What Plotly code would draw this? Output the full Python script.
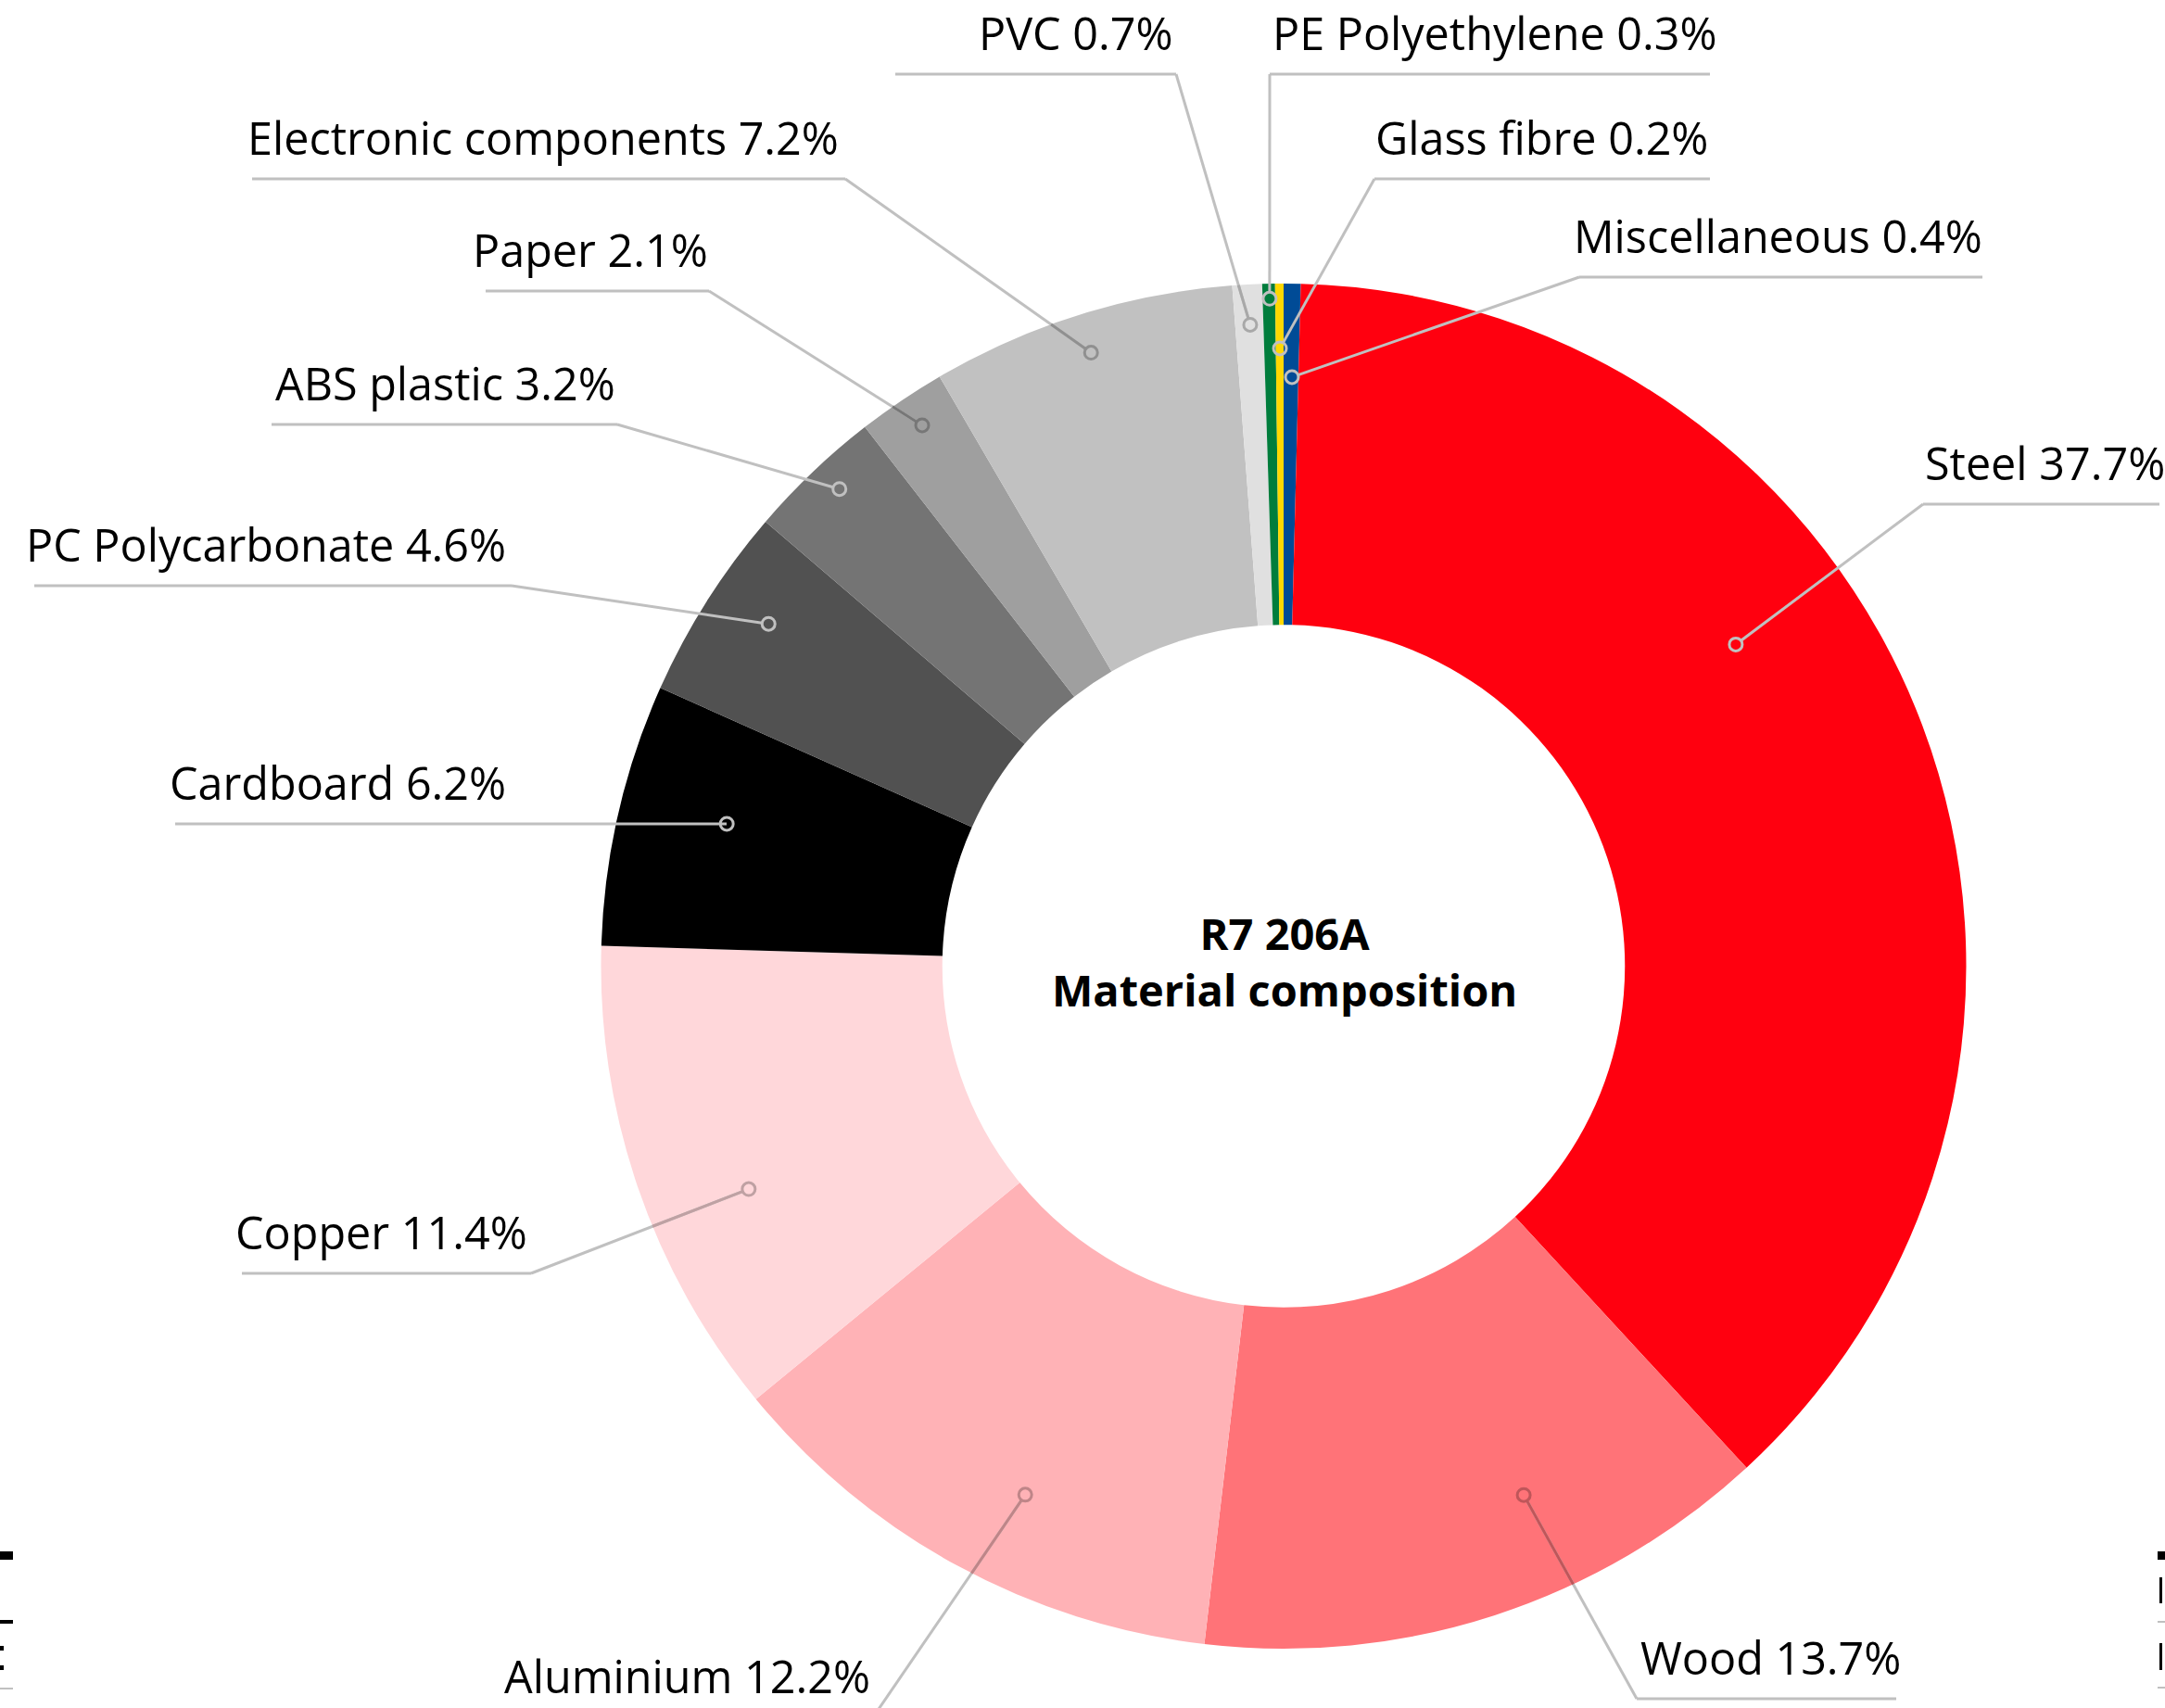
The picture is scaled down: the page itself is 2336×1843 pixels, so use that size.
import math
import plotly.graph_objects as go

# ---------------- data (clockwise from 12 o'clock) ----------------
materials = ["Miscellaneous", "Steel", "Wood", "Aluminium", "Copper", "Cardboard",
             "PC Polycarbonate", "ABS plastic", "Paper", "Electronic components",
             "PVC", "PE Polyethylene", "Glass fibre"]
shares = [0.4, 37.7, 13.7, 12.2, 11.4, 6.2, 4.6, 3.2, 2.1, 7.2, 0.7, 0.3, 0.2]
slice_colors = ["#004b96", "#ff000f", "#ff7378", "#ffb2b6", "#ffd7da", "#000000",
                "#515151", "#747474", "#9f9f9f", "#c1c1c1", "#e0e0e0", "#007d3c", "#ffd800"]
center_title = ["R7 206A", "Material composition"]

# ---------------- layout constants (pixels) ----------------
W, H = 2336, 1843
CX, CY, R = 1385.0, 1042.5, 736.5
HOLE = 0.5
FONT = "Open Sans"
FS = 48.5
LINE_C = "#c0c0c0"

# callout placement: side, text x, underline y, underline x-range, knee x,
# dot angle nudge (deg), dot radius (frac of R), darker leader inside light slices
callouts = {
    "Steel":                 dict(side="R", tx=2075, uy=544,  ux=(2075, 2330), kx=2075, dshift=-14.8, dr=0.813, dark=False),
    "Wood":                  dict(side="R", tx=1768, uy=1833, ux=(1766, 2046), kx=1766, dshift=-6.4,  dr=0.851, dark=True),
    "Aluminium":             dict(side="L", tx=941,  uy=1853, ux=(552, 942),   kx=942,  dshift=-2.6,  dr=0.862, dark=True),
    "Copper":                dict(side="L", tx=571,  uy=1374, ux=(261, 573),   kx=573,  dshift=-3.8,  dr=0.849, dark=True),
    "Cardboard":             dict(side="L", tx=548,  uy=889,  ux=(189, 784),   kx=None, dshift=1.45,  dr=0.842, dark=False),
    "PC Polycarbonate":      dict(side="L", tx=548,  uy=632,  ux=(37, 552),    kx=552,  dshift=1.26,  dr=0.906, dark=False),
    "ABS plastic":           dict(side="L", tx=666,  uy=458,  ux=(293, 666),   kx=666,  dshift=0.65,  dr=0.955, dark=False),
    "Paper":                 dict(side="L", tx=766,  uy=314,  ux=(524, 765),   kx=765,  dshift=0.3,   dr=0.953, dark=True),
    "Electronic components": dict(side="L", tx=907,  uy=193,  ux=(272, 912),   kx=912,  dshift=-0.13, dr=0.942, dark=True),
    "PVC":                   dict(side="L", tx=1268, uy=80,   ux=(966, 1269),  kx=1269, dshift=0.08,  dr=0.941, dark=True),
    "PE Polyethylene":       dict(side="R", tx=1371, uy=80,   ux=(1370, 1845), kx=1370, dshift=0.06,  dr=0.978, dark=False),
    "Glass fibre":           dict(side="RR", tx=1845, uy=193, ux=(1483, 1845), kx=1483, dshift=0.02,  dr=0.905, dark=False),
    "Miscellaneous":         dict(side="RR", tx=2141, uy=299, ux=(1704, 2139), kx=1704, dshift=0.09,  dr=0.863, dark=False),
}


def px(x):
    return x / W


def py(y):
    return 1 - y / H


def darker(hex_color, f=0.75):
    h = hex_color.lstrip("#")
    r, g, b = (int(h[i:i + 2], 16) for i in (0, 2, 4))
    return "rgb(%d,%d,%d)" % (r * f, g * f, b * f)


def seg(x0, y0, x1, y1, color, width=3):
    return dict(type="line", xref="paper", yref="paper", x0=px(x0), y0=py(y0),
                x1=px(x1), y1=py(y1), line=dict(color=color, width=width), layer="above")


fig = go.Figure()
fig.add_trace(go.Pie(
    labels=materials, values=shares, hole=HOLE, sort=False, direction="clockwise",
    rotation=0, marker=dict(colors=slice_colors, line=dict(width=0)),
    textinfo="none", hoverinfo="label+percent", showlegend=False,
    domain=dict(x=[px(CX - R), px(CX + R)], y=[py(CY + R), py(CY - R)]),
))

shapes = []
annotations = []
total = sum(shares)
cum = 0.0
for name, val, col in zip(materials, shares, slice_colors):
    mid = (cum + val / 2) / total * 360.0
    cum += val
    c = callouts[name]
    ang = math.radians(mid + c["dshift"])
    rr = c["dr"] * R
    dx, dy = CX + rr * math.sin(ang), CY - rr * math.cos(ang)
    uy = c["uy"]
    inner_c = darker(col) if c["dark"] else LINE_C
    # underline
    shapes.append(seg(c["ux"][0], uy, c["ux"][1], uy, LINE_C))
    # leader from knee to dot edge
    kx = c["kx"] if c["kx"] is not None else dx
    vx, vy = dx - kx, dy - uy
    L = math.hypot(vx, vy)
    if L > 8:
        ex, ey = dx - vx / L * 7, dy - vy / L * 7
        shapes.append(seg(kx, uy, ex, ey, LINE_C))
        if c["dark"]:
            # where the leader enters the ring
            a = vx * vx + vy * vy
            b = 2 * ((kx - CX) * vx + (uy - CY) * vy)
            cc = (kx - CX) ** 2 + (uy - CY) ** 2 - R * R
            disc = b * b - 4 * a * cc
            if disc >= 0:
                t = (-b - math.sqrt(disc)) / (2 * a)
                t = max(0.0, min(1.0, t))
                sx, sy = kx + t * vx, uy + t * vy
                shapes.append(seg(sx, sy, ex, ey, inner_c))
    # hollow dot
    shapes.append(dict(type="circle", xref="paper", yref="paper",
                       x0=px(dx - 7), x1=px(dx + 7), y0=py(dy + 7), y1=py(dy - 7),
                       line=dict(color=inner_c, width=3), fillcolor="rgba(0,0,0,0)", layer="above"))
    # text
    xanchor = "left" if c["side"] == "R" else "right"
    annotations.append(dict(text=f"{name} {val}%", xref="paper", yref="paper",
                            x=px(c["tx"]), y=py(uy - 10), xanchor=xanchor, yanchor="bottom",
                            showarrow=False, font=dict(family=FONT, size=FS, color="#000000")))

annotations.append(dict(text="<b>" + "</b><br><b>".join(center_title) + "</b>",
                        xref="paper", yref="paper", x=px(CX + 1), y=py(1037),
                        xanchor="center", yanchor="middle", showarrow=False,
                        font=dict(family=FONT, size=47, color="#000000")))

# fragments of neighbouring page content cut by the crop at the bottom edges
edge_bits = [
    dict(x0=0, x1=14, y0=1674, y1=1683, color="#000000"),
    dict(x0=0, x1=14, y0=1748, y1=1752, color="#000000"),
    dict(x0=0, x1=4, y0=1776, y1=1781, color="#000000"),
    dict(x0=0, x1=4, y0=1797, y1=1802, color="#000000"),
    dict(x0=0, x1=14, y0=1821, y1=1823, color="#c0c0c0"),
    dict(x0=2328, x1=2336, y0=1674, y1=1683, color="#000000"),
    dict(x0=2330, x1=2333, y0=1702, y1=1730, color="#000000"),
    dict(x0=2328, x1=2336, y0=1749, y1=1751, color="#c0c0c0"),
    dict(x0=2330, x1=2333, y0=1773, y1=1802, color="#000000"),
    dict(x0=2328, x1=2336, y0=1820, y1=1822, color="#c0c0c0"),
]
for e in edge_bits:
    shapes.append(dict(type="rect", xref="paper", yref="paper",
                       x0=px(e["x0"]), x1=px(e["x1"]), y0=py(e["y1"]), y1=py(e["y0"]),
                       fillcolor=e["color"], line=dict(width=0), layer="above"))

fig.update_layout(
    width=W, height=H, margin=dict(l=0, r=0, t=0, b=0),
    paper_bgcolor="#ffffff", plot_bgcolor="#ffffff",
    shapes=shapes, annotations=annotations, showlegend=False,
)

fig.write_html("out.html", config={"displayModeBar": False},
               post_script="document.body.style.margin='0px';")
